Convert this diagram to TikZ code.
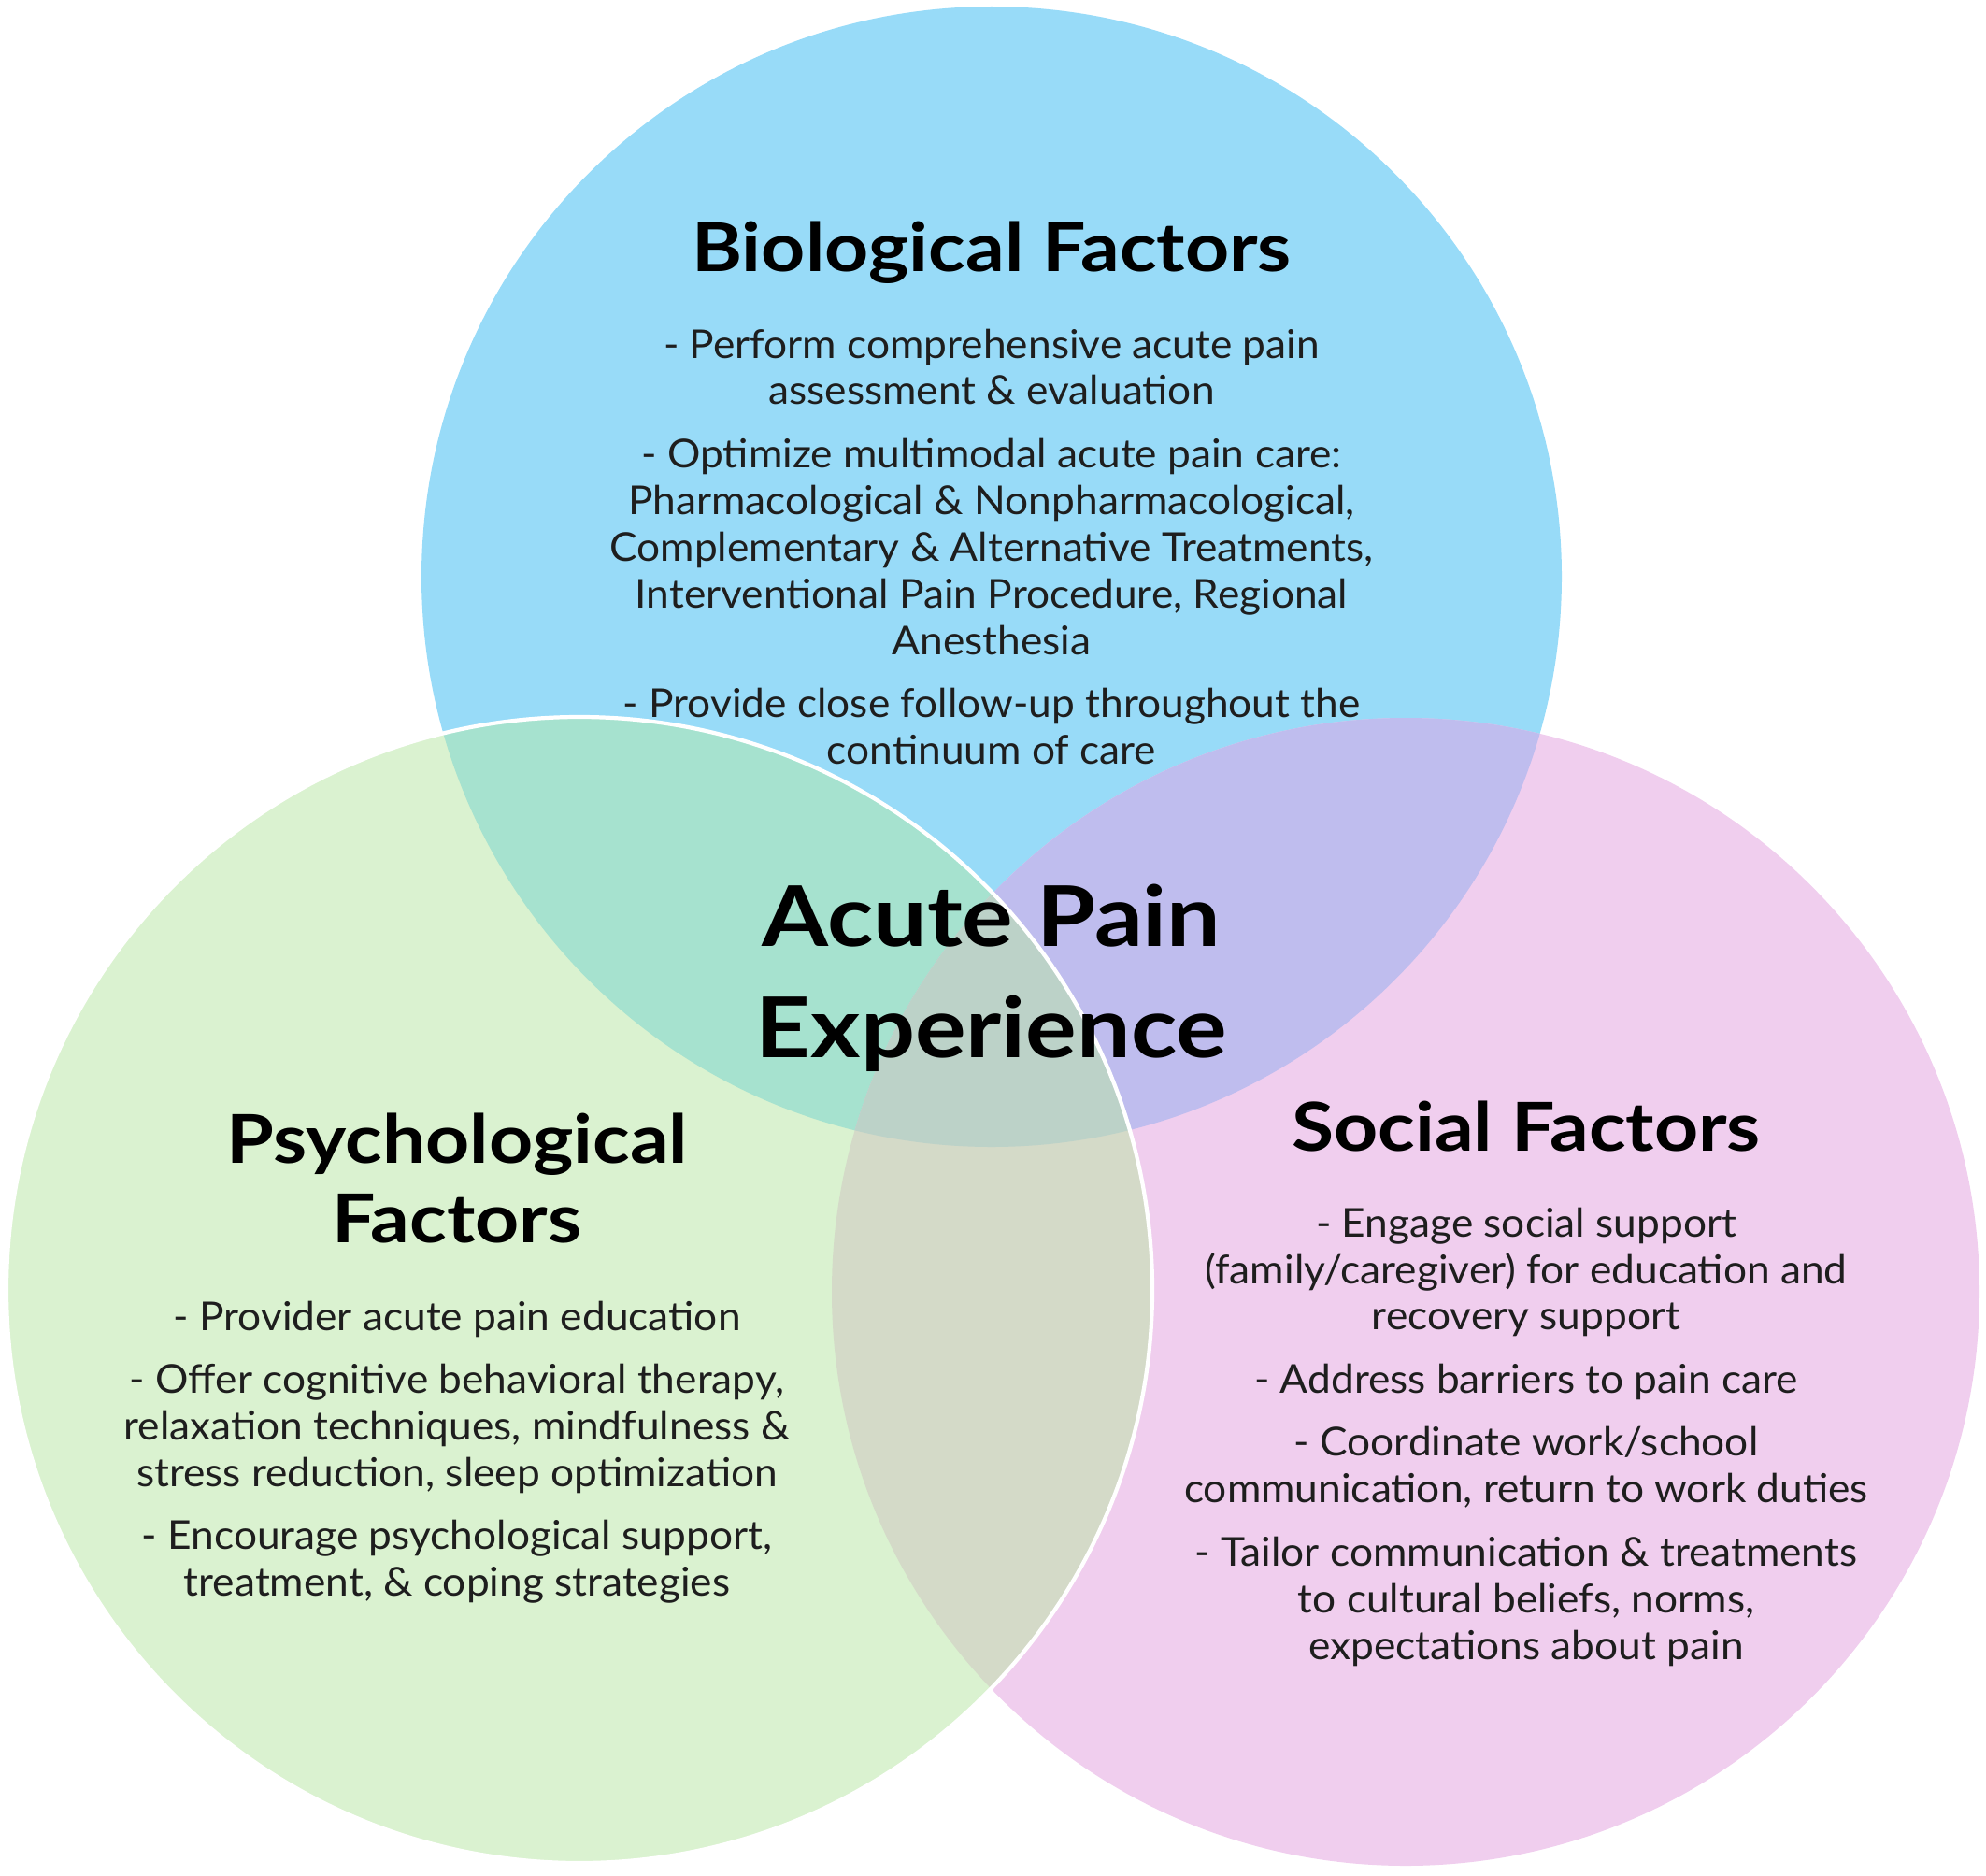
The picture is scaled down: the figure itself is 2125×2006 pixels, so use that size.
\documentclass[tikz,border=0pt]{standalone}
\usepackage{fontspec}
\setmainfont{Lato}[FakeStretch=1.04]
\newfontfamily\headfont{Lato}[FakeStretch=1.14]
\definecolor{cB}{HTML}{98DBF8}
\definecolor{cG}{HTML}{DAF2D0}
\definecolor{cP}{HTML}{F0CEEE}
\definecolor{cBG}{HTML}{A6E2CF}
\definecolor{cBP}{HTML}{BFBDEE}
\definecolor{cGP}{HTML}{D4DAC8}
\definecolor{cBGP}{HTML}{BCD2C8}
\definecolor{bodygray}{HTML}{1E1E1E}
\begin{document}
\begin{tikzpicture}[x=0.01cm,y=-0.01cm,
  headtext/.style={font=\headfont\fontsize{20.5}{24.2}\selectfont\bfseries, align=center, inner sep=0pt, anchor=north, text=black},
  bodytext/.style={font=\fontsize{12.1}{14.2}\selectfont, align=center, inner sep=0pt, anchor=north, text=bodygray},
  centertext/.style={font=\headfont\fontsize{25.5}{33.8}\selectfont\bfseries, align=center, inner sep=0pt, anchor=north, text=black}]
\useasboundingbox (0,0) rectangle (2125,2006);
\def\circBio{(1061,617) circle[radius=610]}
\def\circPsy{(620,1380) circle[radius=613]}
\def\circSoc{(1504,1382) circle[radius=614]}
% base fills
\fill[cB] \circBio;
\fill[cP] \circSoc;
\fill[cG] \circPsy;
% overlaps
\begin{scope}\clip \circBio; \fill[cBG] \circPsy; \end{scope}
\begin{scope}\clip \circBio; \fill[cBP] \circSoc; \end{scope}
\begin{scope}\clip \circPsy; \fill[cGP] \circSoc; \end{scope}
\begin{scope}\clip \circBio; \clip \circPsy; \fill[cBGP] \circSoc; \end{scope}
% white outline of the psychological circle
\draw[white, line width=1.2pt] \circPsy;
% texts
\node[headtext] (bioHead) at (1061,236) {Biological Factors};
\node[bodytext] (bioBody) at (1061,351) {- Perform comprehensive acute pain\\assessment \& evaluation\\[5pt]
- Optimize multimodal acute pain care:\\Pharmacological \& Nonpharmacological,\\Complementary \& Alternative Treatments,\\Interventional Pain Procedure, Regional\\Anesthesia\\[5pt]
- Provide close follow-up throughout the\\continuum of care};
\node[centertext] (center) at (1061,945) {Acute Pain\\Experience};
\node[headtext] (psyHead) at (489,1190) {Psychological\\Factors};
\node[bodytext] (psyBody) at (489,1391) {- Provider acute pain education\\[5pt]
- Offer cognitive behavioral therapy,\\relaxation techniques, mindfulness \&\\stress reduction, sleep optimization\\[5pt]
- Encourage psychological support,\\treatment, \& coping strategies};
\node[headtext] (socHead) at (1633,1177) {Social Factors};
\node[bodytext] (socBody) at (1633,1291) {- Engage social support\\(family/caregiver) for education and\\recovery support\\[5pt]
- Address barriers to pain care\\[5pt]
- Coordinate work/school\\communication, return to work duties\\[5pt]
- Tailor communication \& treatments\\to cultural beliefs, norms,\\expectations about pain};
\end{tikzpicture}
\end{document}
